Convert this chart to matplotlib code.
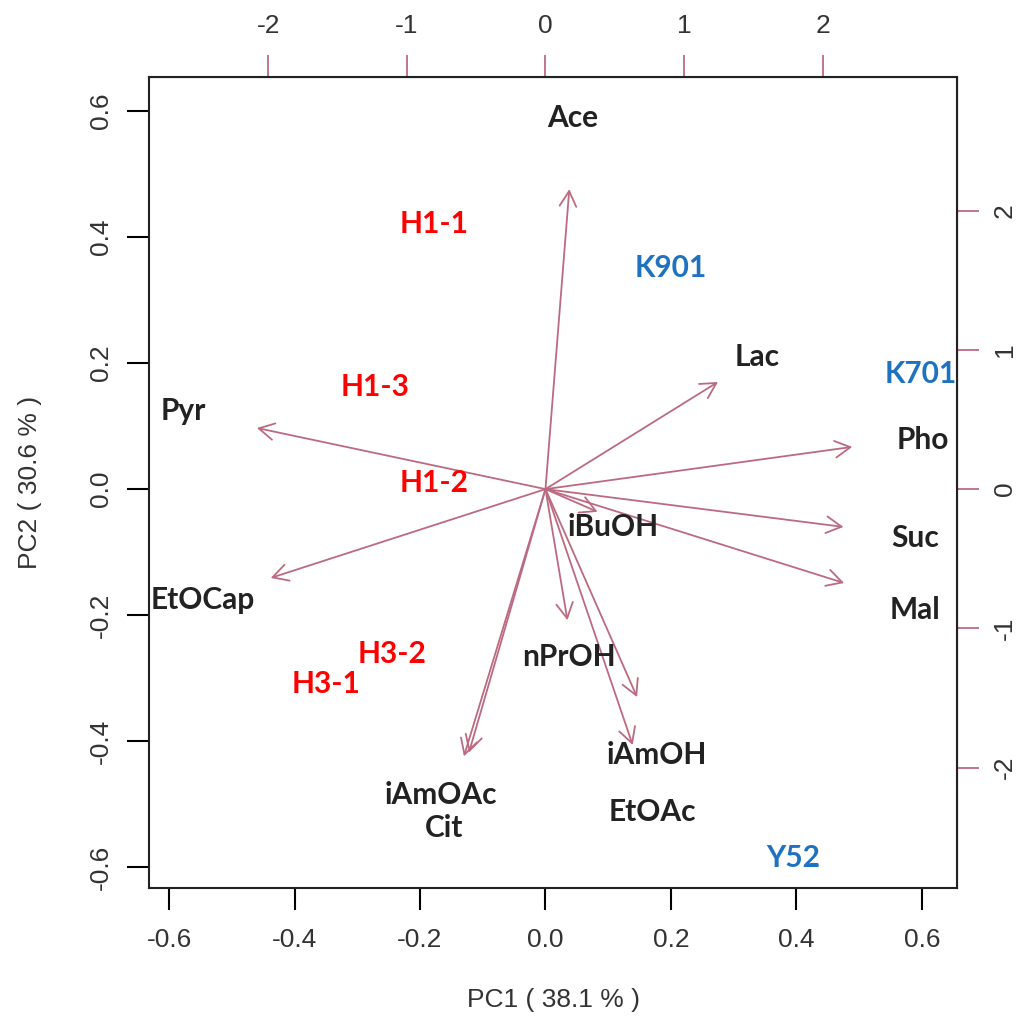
import matplotlib
matplotlib.use("Agg")
import matplotlib.pyplot as plt

# variable loadings (arrow tips, PC1/PC2 units)
var_names = ["Ace", "Lac", "Pho", "Suc", "Mal", "Pyr", "EtOCap", "iBuOH",
             "nPrOH", "iAmOH", "EtOAc", "iAmOAc", "Cit"]
var_pc1 = [0.038, 0.275, 0.489, 0.475, 0.476, -0.460, -0.438, 0.083,
           0.035, 0.146, 0.139, -0.130, -0.122]
var_pc2 = [0.476, 0.170, 0.067, -0.060, -0.149, 0.097, -0.141, -0.036,
           -0.208, -0.330, -0.406, -0.424, -0.418]

# where the variable names are written
lab_names = ["Ace", "Lac", "Pyr", "Pho", "iBuOH", "Suc", "EtOCap", "Mal",
             "nPrOH", "iAmOH", "iAmOAc", "EtOAc", "Cit"]
lab_pc1 = [0.043, 0.338, -0.578, 0.602, 0.108, 0.589, -0.546, 0.589,
           0.038, 0.178, -0.167, 0.170, -0.161]
lab_pc2 = [0.589, 0.210, 0.124, 0.078, -0.060, -0.078, -0.176, -0.192,
           -0.267, -0.422, -0.486, -0.513, -0.537]

# sample (strain) labels
samples = ["H1-1", "K901", "H1-3", "K701", "H1-2", "H3-2", "H3-1", "Y52"]
sample_pc1 = [-0.177, 0.199, -0.271, 0.599, -0.177, -0.244, -0.350, 0.395]
sample_pc2 = [0.421, 0.351, 0.162, 0.183, 0.010, -0.262, -0.310, -0.586]
sample_group = ["H", "K", "H", "K", "H", "H", "H", "Y"]

group_colors = {"H": "#ff0000", "K": "#1f72c0", "Y": "#1f72c0"}
arrow_col = "#bc6a82"
scale = 0.221  # secondary axis units -> PC units

fig = plt.figure(figsize=(10.22, 10.29), dpi=100)
ax = fig.add_axes([0.1458, 0.137, 0.7906, 0.7882])
ax.set_xlim(-0.632, 0.656)
ax.set_ylim(-0.633, 0.654)

for x, y in zip(var_pc1, var_pc2):
    ax.annotate("", xy=(x, y), xytext=(0, 0),
                arrowprops=dict(arrowstyle="->,head_length=0.55,head_width=0.3",
                                mutation_scale=20, color=arrow_col, lw=1.3,
                                shrinkA=0, shrinkB=0))

for name, x, y in zip(lab_names, lab_pc1, lab_pc2):
    ax.text(x, y, name, ha="center", va="center", fontsize=21.5,
            fontweight="bold", family="Lato", color="#222222")

for name, x, y, g in zip(samples, sample_pc1, sample_pc2, sample_group):
    ax.text(x, y, name, ha="center", va="center", fontsize=21.5,
            fontweight="bold", family="Lato", color=group_colors[g])

tick_font = dict(family="Liberation Sans", size=19)
ax.set_xticks([-0.6, -0.4, -0.2, 0.0, 0.2, 0.4, 0.6])
ax.set_yticks([-0.6, -0.4, -0.2, 0.0, 0.2, 0.4, 0.6])
ax.set_xticklabels(["-0.6", "-0.4", "-0.2", "0.0", "0.2", "0.4", "0.6"],
                   fontdict=tick_font, color="#333333")
ax.set_yticklabels(["-0.6", "-0.4", "-0.2", "0.0", "0.2", "0.4", "0.6"],
                   fontdict=tick_font, rotation=90, va="center", color="#333333")
ax.tick_params(length=16, width=1.5, pad=13)
ax.tick_params(axis="y", pad=10)
for s in ax.spines.values():
    s.set_linewidth(1.5)
    s.set_color("#222222")

ax.set_xlabel("PC1 ( 38.1 % )", fontdict=tick_font, color="#333333", labelpad=26)
ax.set_ylabel("PC2 ( 30.6 % )", fontdict=tick_font, color="#333333", labelpad=34)

top = ax.secondary_xaxis("top", functions=(lambda v: v / scale, lambda v: v * scale))
top.set_xticks([-2, -1, 0, 1, 2])
top.set_xticklabels(["-2", "-1", "0", "1", "2"], fontdict=tick_font, color="#333333")
top.tick_params(length=16, width=1.3, color=arrow_col, pad=12)

right = ax.secondary_yaxis("right", functions=(lambda v: v / scale, lambda v: v * scale))
right.set_yticks([-2, -1, 0, 1, 2])
right.set_yticklabels(["-2", "-1", "0", "1", "2"], fontdict=tick_font,
                      rotation=90, va="center", color="#333333")
right.tick_params(length=16, width=1.3, color=arrow_col, pad=10)

fig.savefig("out.png", dpi=100, facecolor="white")
